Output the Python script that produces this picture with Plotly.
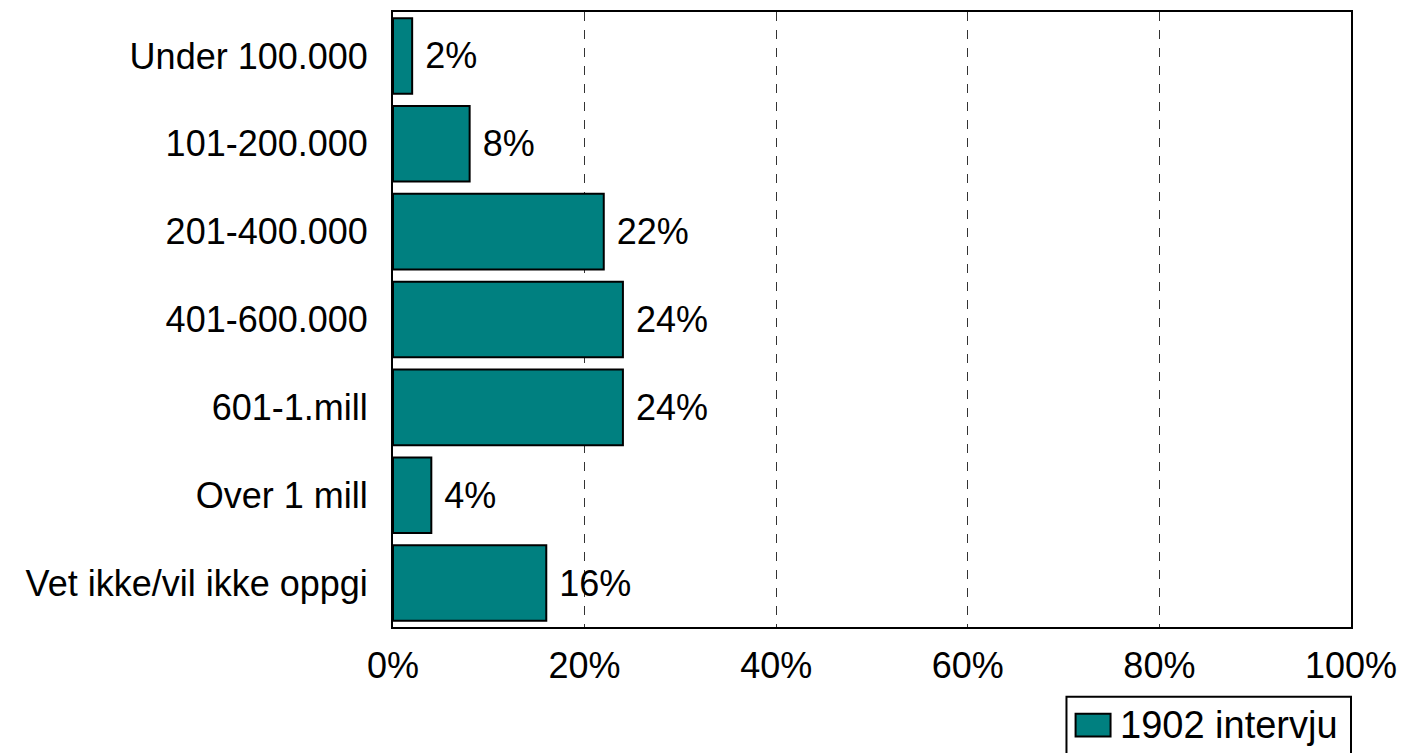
import plotly.graph_objects as go

categories = [
    "Under 100.000",
    "101-200.000",
    "201-400.000",
    "401-600.000",
    "601-1.mill",
    "Over 1 mill",
    "Vet ikke/vil ikke oppgi",
]
values = [2, 8, 22, 24, 24, 4, 16]
series_name = "1902 intervju"
x_ticks = [0, 20, 40, 60, 80, 100]
x_tick_labels = ["0%", "20%", "40%", "60%", "80%", "100%"]

font_family = "Liberation Sans, Arial, sans-serif"
bar_color = "#008080"

fig = go.Figure(
    go.Bar(
        y=categories,
        x=values,
        orientation="h",
        name=series_name,
        marker=dict(color=bar_color, line=dict(color="black", width=2)),
        text=[f" {v}%" for v in values],
        textposition="outside",
        textfont=dict(size=36, color="black", family=font_family),
        constraintext="none",
        cliponaxis=False,
        showlegend=False,
    )
)

# Legend box drawn below the plot, right-aligned with the frame
fig.add_shape(
    type="rect", xref="paper", yref="paper",
    x0=0.703, x1=1.0, y0=-0.23, y1=-0.1135,
    line=dict(color="black", width=2), fillcolor="white", layer="above",
)
fig.add_shape(
    type="rect", xref="paper", yref="paper",
    x0=0.7125, x1=0.749, y0=-0.178, y1=-0.141,
    line=dict(color="black", width=2), fillcolor=bar_color, layer="above",
)
fig.add_annotation(
    xref="paper", yref="paper", x=0.757, y=-0.159,
    xanchor="left", yanchor="middle", showarrow=False,
    text=series_name, font=dict(size=38, color="black", family=font_family),
)

fig.update_layout(
    width=1407,
    height=753,
    margin=dict(l=393, r=54, t=10, b=126),
    paper_bgcolor="white",
    plot_bgcolor="white",
    bargap=0.14,
    font=dict(family=font_family, size=36, color="black"),
    showlegend=False,
)

fig.update_xaxes(
    range=[0, 100],
    tickvals=x_ticks,
    ticktext=x_tick_labels,
    showgrid=True,
    gridcolor="#333333",
    gridwidth=1,
    griddash="dash",
    zeroline=False,
    showline=True,
    linecolor="black",
    linewidth=2,
    mirror=True,
    ticks="",
    ticklabelstandoff=6,
    tickfont=dict(size=36),
)

fig.update_yaxes(
    categoryorder="array",
    categoryarray=categories,
    autorange="reversed",
    showgrid=False,
    showline=True,
    linecolor="black",
    linewidth=2,
    mirror=True,
    ticks="",
    ticklabelstandoff=16,
    tickfont=dict(size=36),
)

fig.write_html("out.html")
